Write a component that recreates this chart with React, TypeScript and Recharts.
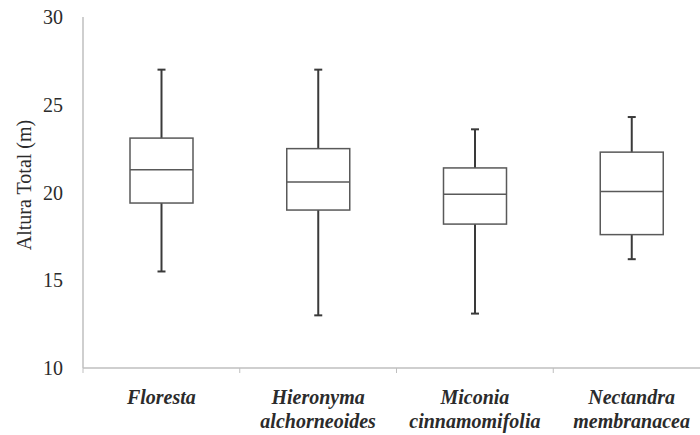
import { Bar, ComposedChart, XAxis, YAxis } from 'recharts';

const species = ['Floresta', 'Hieronyma alchorneoides', 'Miconia cinnamomifolia', 'Nectandra membranacea'];
const minValues = [15.5, 13.0, 13.1, 16.2];
const q1Values = [19.4, 19.0, 18.2, 17.6];
const medianValues = [21.3, 20.6, 19.9, 20.05];
const q3Values = [23.1, 22.5, 21.4, 22.3];
const maxValues = [27.0, 27.0, 23.6, 24.3];
const yTicks = [10, 15, 20, 25, 30];

const data = species.map((name, i) => ({
    name,
    min: minValues[i],
    q1: q1Values[i],
    median: medianValues[i],
    q3: q3Values[i],
    max: maxValues[i],
}));

const AXIS = '#bfbfbf';
const TEXT = '#2b2b2b';
const SERIF = 'Liberation Serif';

// whisker from min to max, box from q1 to q3, line at the median
function BoxShape(props: any) {
    const { x, y, width, height, payload } = props;
    const { min, q1, median, q3, max } = payload;
    const toPx = (v: number) => y + (height * (max - v)) / (max - min);
    const cx = x + width / 2;
    const top = toPx(q3);
    const bottom = toPx(q1);
    const mid = toPx(median);
    const cap = 4;
    return (
        <g>
            <line x1={cx} x2={cx} y1={y} y2={y + height} stroke="#3a3a3a" strokeWidth={2} />
            <line x1={cx - cap} x2={cx + cap} y1={y} y2={y} stroke="#3a3a3a" strokeWidth={2} />
            <line x1={cx - cap} x2={cx + cap} y1={y + height} y2={y + height} stroke="#3a3a3a" strokeWidth={2} />
            <rect x={x} y={top} width={width} height={bottom - top} fill="#ffffff" stroke="#595959" strokeWidth={1.5} />
            <line x1={x} x2={x + width} y1={mid} y2={mid} stroke="#595959" strokeWidth={1.5} />
        </g>
    );
}

function SpeciesTick(props: any) {
    const { x, y, payload, index } = props;
    const half = payload.offset || 78.5;
    const lines = String(payload.value).split(' ');
    return (
        <g>
            {index === 0 && <line x1={x - half} x2={x - half} y1={y} y2={y + 5} stroke={AXIS} />}
            <line x1={x + half} x2={x + half} y1={y} y2={y + 5} stroke={AXIS} />
            <text
                x={x}
                y={y}
                textAnchor="middle"
                style={{ fontFamily: SERIF, fontSize: 20, fontStyle: 'italic', fontWeight: 'bold' }}
                fill={TEXT}
            >
                {lines.map((line, i) => (
                    <tspan key={i} x={x} dy={i === 0 ? 36 : 24}>
                        {line}
                    </tspan>
                ))}
            </text>
        </g>
    );
}

function ValueTick(props: any) {
    const { x, y, payload } = props;
    return (
        <text x={x} y={y} dy={7} textAnchor="end" style={{ fontFamily: SERIF, fontSize: 20 }} fill={TEXT}>
            {payload.value}
        </text>
    );
}

export default function App() {
    return (
        <div
            style={{
                position: 'absolute',
                left: 0,
                top: 0,
                width: 720,
                height: 435,
                background: '#fff',
                fontFamily: SERIF,
            }}
        >
            <ComposedChart
                width={720}
                height={435}
                data={data}
                margin={{ top: 17, right: 10, bottom: 7, left: 0 }}
                barCategoryGap={0}
            >
                <XAxis
                    dataKey="name"
                    axisLine={{ stroke: AXIS, strokeWidth: 1.5 }}
                    tickLine={false}
                    tickSize={0}
                    tickMargin={0}
                    height={60}
                    interval={0}
                    tick={<SpeciesTick />}
                />
                <YAxis
                    type="number"
                    domain={[10, 30]}
                    ticks={yTicks}
                    width={83}
                    axisLine={{ stroke: AXIS, strokeWidth: 1.5 }}
                    tickLine={false}
                    tickSize={0}
                    tickMargin={20}
                    tick={<ValueTick />}
                    label={{
                        content: ({ viewBox }: any) => {
                            const lx = viewBox.x + 24;
                            const ly = viewBox.y + 168;
                            return (
                                <text
                                    x={lx}
                                    y={ly}
                                    transform={`rotate(-90, ${lx}, ${ly})`}
                                    textAnchor="middle"
                                    dominantBaseline="central"
                                    style={{ fontFamily: SERIF, fontSize: 20 }}
                                    fill={TEXT}
                                >
                                    Altura Total (m)
                                </text>
                            );
                        },
                    }}
                />
                <Bar
                    dataKey={(d: any) => [d.min, d.max]}
                    barSize={63}
                    shape={<BoxShape />}
                    isAnimationActive={false}
                />
            </ComposedChart>
        </div>
    );
}
